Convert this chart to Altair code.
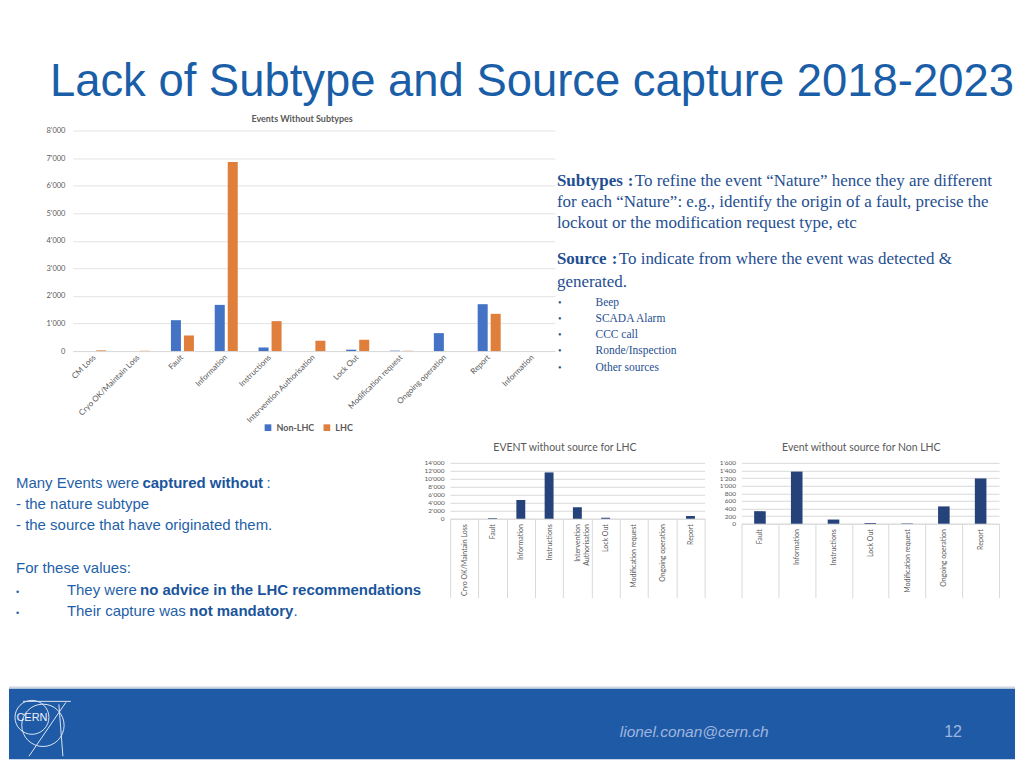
import altair as alt
import pandas as pd

# ---------------- data ----------------
categories = ["CM Loss", "Cryo OK/Maintain Loss", "Fault", "Information", "Instructions",
              "Intervention Authorisation", "Lock Out", "Modification request",
              "Ongoing operation", "Report", "Information "]
series_names = ["Non-LHC", "LHC"]
non_lhc_values = [0, 0, 1120, 1675, 130, 0, 50, 15, 650, 1700, 0]
lhc_values = [25, 10, 565, 6860, 1085, 375, 410, 10, 0, 1350, 0]

lhc_source_categories = ["Cryo OK/Maintain Loss", "Fault", "Information", "Instructions",
                         "Intervention Authorisation", "Lock Out", "Modification request",
                         "Ongoing operation", "Report"]
lhc_source_values = [0, 150, 4700, 11600, 2850, 250, 0, 0, 680]

nonlhc_source_categories = ["Fault", "Information", "Instructions", "Lock Out",
                            "Modification request", "Ongoing operation", "Report"]
nonlhc_source_values = [330, 1370, 110, 20, 10, 455, 1190]

slide_title = "Lack of Subtype and Source capture 2018-2023"
main_title = "Events Without Subtypes"
lhc_title = "EVENT without source for LHC"
nonlhc_title = "Event without source for Non LHC"
source_items = ["Beep", "SCADA Alarm", "CCC call", "Ronde/Inspection", "Other sources"]

# ---------------- styles ----------------
TITLE_C = "#1A5EA8"
LEFT_C = "#1F5FA8"
LEFT_B = "#1A559C"
RIGHT_C = "#1F4F91"
GRAY = "#595959"
GRID = "#e3e3e3"
FOOT_C = "#1F5AA6"
FOOT_TXT = "#9FB6DE"
CHART_FONT = "Lato"
THOUSANDS = "replace(format(datum.value, ','), ',', \"'\")"

ONE = pd.DataFrame({"k": [0]})


def txt(s, x, y, size, color, weight="normal", font="Liberation Sans", style="normal",
        align="left", baseline="alphabetic"):
    return alt.Chart(ONE).mark_text(align=align, baseline=baseline, fontSize=size, font=font,
                                    color=color, fontWeight=weight, fontStyle=style).encode(
        x=alt.value(x), y=alt.value(y), text=alt.value(s))


def rule(x, x2, y, y2, color, w=1.0):
    return alt.Chart(ONE).mark_rule(color=color, strokeWidth=w).encode(
        x=alt.value(x), x2=alt.value(x2), y=alt.value(y), y2=alt.value(y2))


def rect(x, x2, y, y2, color, opacity=1.0):
    return alt.Chart(ONE).mark_rect(color=color, opacity=opacity).encode(
        x=alt.value(x), x2=alt.value(x2), y=alt.value(y), y2=alt.value(y2))


def ring(x, y, size, color):
    return alt.Chart(ONE).mark_point(shape="circle", filled=False, size=size, color=color,
                                     strokeWidth=1, opacity=1).encode(
        x=alt.value(x), y=alt.value(y))


# ---------------- main chart ----------------
main_df = pd.DataFrame({
    "category": categories * 2,
    "series": [series_names[0]] * len(categories) + [series_names[1]] * len(categories),
    "value": non_lhc_values + lhc_values,
})

main_bars = alt.Chart(main_df).mark_bar().encode(
    x=alt.X("category:N", sort=categories,
            scale=alt.Scale(paddingInner=0, paddingOuter=0),
            axis=alt.Axis(title=None, labelAngle=-45, labelAlign="right", labelBaseline="middle",
                          labelFontSize=8, labelColor=GRAY, labelFont=CHART_FONT, ticks=False,
                          domainColor="#d9d9d9", labelPadding=5)),
    xOffset=alt.XOffset("series:N", sort=series_names,
                        scale=alt.Scale(paddingInner=0.23, paddingOuter=0.8)),
    y=alt.Y("value:Q", scale=alt.Scale(domain=[0, 8000]),
            axis=alt.Axis(title=None, values=list(range(0, 8001, 1000)), labelExpr=THOUSANDS,
                          grid=True, gridColor=GRID, domain=False, ticks=False, labelPadding=8,
                          labelFontSize=7.5, labelColor=GRAY, labelFont=CHART_FONT)),
    color=alt.Color("series:N", sort=series_names,
                    scale=alt.Scale(domain=series_names, range=["#4472C4", "#E07E3C"]),
                    legend=alt.Legend(title=None, orient="none", legendX=191, legendY=293,
                                      direction="horizontal", symbolType="square", symbolSize=45,
                                      labelFontSize=9, labelFontWeight="bold", labelColor=GRAY,
                                      labelFont=CHART_FONT, columnPadding=8, labelOffset=4,
                                      symbolStrokeWidth=0)),
)

SERIF = "Liberation Serif"
RS = 17
main_layers = [
    rect(-64, 944, -122, 630, "white", opacity=0),
    # footer
    rect(-64, 944, 559, 630, FOOT_C),
    rule(-64, 944, 558, 558, "#cdd5e0", 2),
    txt("lionel.conan@cern.ch", 548, 608, 15.5, FOOT_TXT, style="italic"),
    txt("12", 873, 608, 16, FOOT_TXT),
    ring(-41, 588, 1156, "#dbe4f3"),
    ring(-30, 596, 1800, "#dbe4f3"),
    rule(-50, -2, 572, 572, "#dbe4f3"),
    rule(-7, -44, 573, 627, "#dbe4f3"),
    rule(-14, -10, 575, 627, "#dbe4f3"),
    txt("CERN", -41, 589, 11, "#eef2fa", align="center", baseline="middle"),
    # titles
    txt(slide_title, -23, -35, 45.5, TITLE_C),
    txt(main_title, 229.7, -9, 9, GRAY, weight="bold", font=CHART_FONT, align="center"),
    main_bars,
    # right text panel
    txt("Subtypes", 485, 55.7, RS, RIGHT_C, weight="bold", font=SERIF),
    txt(":", 556, 55.7, RS, RIGHT_C, weight="bold", font=SERIF),
    txt("To refine the event \u201cNature\u201d hence they are different", 563, 55.7, RS,
        RIGHT_C, font=SERIF),
    txt("for each \u201cNature\u201d: e.g., identify the origin of a fault, precise the", 485, 76.7,
        RS, RIGHT_C, font=SERIF),
    txt("lockout or the modification request type, etc", 485, 97.3, RS, RIGHT_C, font=SERIF),
    txt("Source", 485, 134, RS, RIGHT_C, weight="bold", font=SERIF),
    txt(":", 540, 134, RS, RIGHT_C, weight="bold", font=SERIF),
    txt("To indicate from where the event was detected &", 547, 134, RS, RIGHT_C, font=SERIF),
    txt("generated.", 485, 156.7, 17, RIGHT_C, font=SERIF),
]
for i, item in enumerate(source_items):
    yy = [175.7, 191.7, 208.3, 224.3, 240.7][i]
    main_layers.append(txt("\u2022", 486, yy, 10, RIGHT_C, font=SERIF))
    main_layers.append(txt(item, 523.7, yy, 11.5, RIGHT_C, font=SERIF))

main = alt.layer(*main_layers).properties(width=483, height=221)

# ---------------- left text panel ----------------
left_layers = [
    txt("Many Events were", -57, 25.3, 15, LEFT_C),
    txt("captured without", 69.7, 25.3, 15, LEFT_B, weight="bold"),
    txt(":", 194, 25.3, 15, LEFT_C),
    txt("- the nature subtype", -57, 46.3, 15, LEFT_C),
    txt("- the source that have originated them.", -57, 67.7, 15, LEFT_C),
    txt("For these values:", -57, 110.3, 15, LEFT_C),
    txt("\u2022", -57, 132, 9, LEFT_C),
    txt("They were", -6, 132, 15, LEFT_C),
    txt("no advice in the LHC recommendations", 67.3, 132, 15, LEFT_B, weight="bold"),
    txt("\u2022", -57, 153.7, 9, LEFT_C),
    txt("Their capture was", -6, 153.7, 15, LEFT_C),
    txt("not mandatory", 116.7, 153.7, 15, LEFT_B, weight="bold"),
    txt(".", 221, 153.7, 15, LEFT_C),
]
left_panel = alt.layer(*left_layers).properties(width=341, height=61)

# ---------------- small charts ----------------
MULTI = ("datum.label == 'Intervention Authorisation' ? "
         "['Intervention', 'Authorisation'] : datum.label")


def small_chart(cats, vals, dmax, step, w, h, tick_len, title, title_x):
    df = pd.DataFrame({"category": cats, "value": vals})
    bars = alt.Chart(df).mark_bar(color="#26427A", width=alt.RelativeBandSize(0.315)).encode(
        x=alt.X("category:N", sort=cats, scale=alt.Scale(paddingInner=0, paddingOuter=0),
                axis=alt.Axis(title=None, labelAngle=-90, labelAlign="right",
                              labelBaseline="middle", labelFontSize=7, labelColor=GRAY,
                              labelFont=CHART_FONT, ticks=True, tickBand="extent",
                              tickSize=tick_len, tickColor="#d9d9d9", labelPadding=5 - tick_len,
                              domainColor="#d9d9d9", labelExpr=MULTI, labelLineHeight=9)),
        y=alt.Y("value:Q", scale=alt.Scale(domain=[0, dmax]),
                axis=alt.Axis(title=None, values=list(range(0, dmax + 1, step)),
                              labelExpr=THOUSANDS, grid=True, gridColor="#d9d9d9", domain=False,
                              ticks=False, labelPadding=6, labelFontSize=6.5, labelColor=GRAY,
                              labelFont=CHART_FONT)),
    )
    t = txt(title, title_x, -12, 10.5, GRAY, font=CHART_FONT, align="center")
    return alt.layer(bars, t).properties(width=w, height=h)


lhc_chart = small_chart(lhc_source_categories, lhc_source_values, 14000, 2000, 255, 56, 79,
                        lhc_title, 115)
nonlhc_chart = small_chart(nonlhc_source_categories, nonlhc_source_values, 1600, 200, 258, 61,
                           74, nonlhc_title, 120)

row2 = alt.hconcat(left_panel, lhc_chart, nonlhc_chart, spacing=37, bounds="flush")

chart = alt.vconcat(main, row2, spacing=112, bounds="flush").properties(
    padding=0
).configure_view(stroke=None)

chart.save("out.html", embed_options={"renderer": "svg", "actions": False})
